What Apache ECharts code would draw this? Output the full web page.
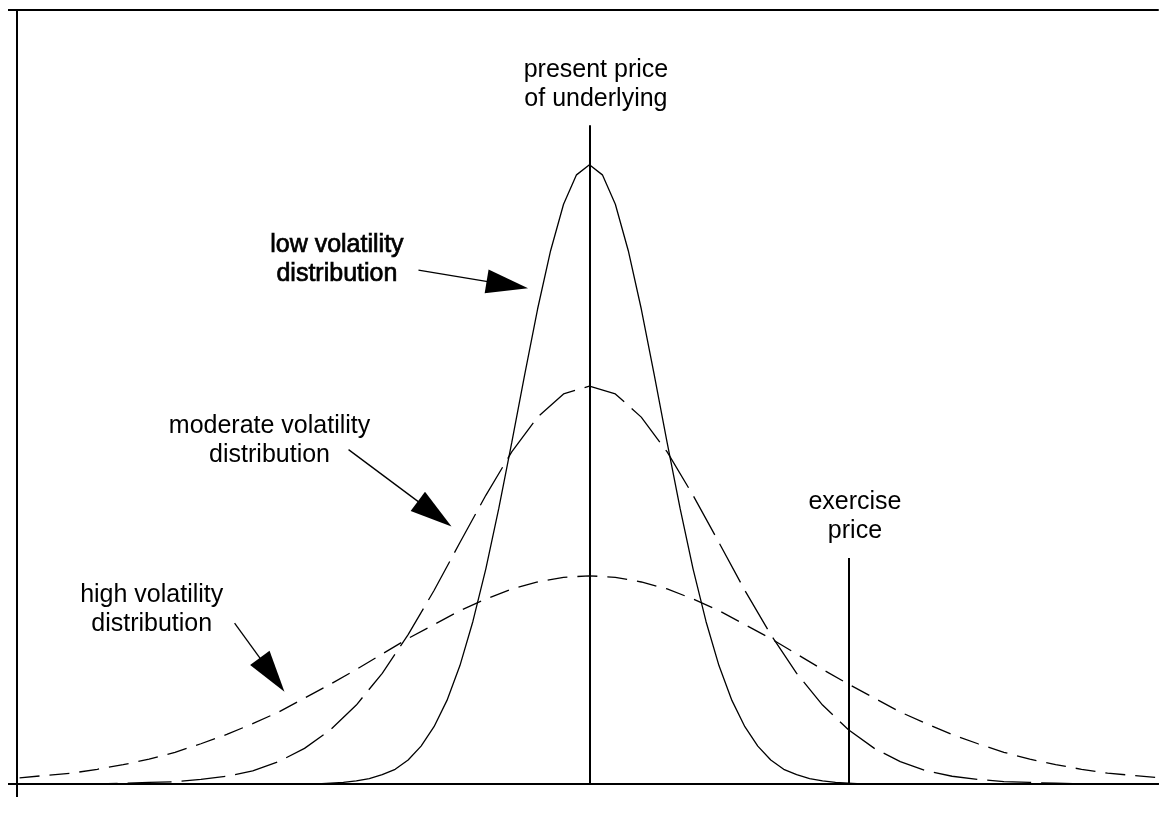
<!DOCTYPE html>
<html><head><meta charset="utf-8">
<script src="https://cdn.jsdelivr.net/npm/echarts@6/dist/echarts.min.js"></script>
<style>html,body{margin:0;padding:0;background:#fff}#c{width:1159px;height:819px}</style>
</head><body><div id="c"></div>
<script>
// x positions in price units (present price = 100, exercise price = 120)
const lowX = [56,78,79,80,81,82,83,84,85,86,87,88,89,90,91,92,93,94,95,96,97,98,99,100,101,102,103,104,105,106,107,108,109,110,111,112,113,114,115,116,117,118,119,120,121,122,144];
const lowY = [0,0,0,0.1,0.2,0.4,0.7,1.2,1.9,3.1,4.9,7.4,10.8,15.3,21.0,27.8,35.6,44.1,52.9,61.4,68.9,74.9,78.7,80.0,78.7,74.9,68.9,61.4,52.9,44.1,35.6,27.8,21.0,15.3,10.8,7.4,4.9,3.1,1.9,1.2,0.7,0.4,0.2,0.1,0,0,0];
const wideX = [56,58,60,62,64,66,68,70,72,74,76,78,80,82,84,86,88,90,92,94,96,98,100,102,104,106,108,110,112,114,116,118,120,122,124,126,128,130,132,134,136,138,140,142,144];
const moderateY = [0,0,0,0,0.1,0.2,0.3,0.6,1.0,1.7,2.9,4.6,7.0,10.2,14.3,19.3,25.0,31.2,37.3,42.9,47.4,50.4,51.4,50.4,47.4,42.9,37.3,31.2,25.0,19.3,14.3,10.2,7.0,4.6,2.9,1.7,1.0,0.6,0.3,0.2,0.1,0,0,0,0];
const highY = [0.8,1.1,1.4,1.9,2.5,3.2,4.1,5.2,6.4,7.8,9.3,11.1,12.9,14.8,16.8,18.8,20.6,22.4,23.9,25.2,26.1,26.7,26.9,26.7,26.1,25.2,23.9,22.4,20.6,18.8,16.8,14.8,12.9,11.1,9.3,7.8,6.4,5.2,4.1,3.2,2.5,1.9,1.4,1.1,0.8];
const presentPrice = 100, exercisePrice = 120;
const annotationTexts = ['present price\nof underlying','low volatility\ndistribution','moderate volatility\ndistribution','high volatility\ndistribution','exercise\nprice'];

// layout (positions in data units)
const annotationPos = [[100.5,90.4],[80.5,67.8],[75.3,44.4],[66.2,22.5],[120.5,34.5]];
const presentTop = 85.1, exerciseTop = 29.2;
const arrows = [[[86.8,66.4],[93.66,64.5]],[[81.4,43.2],[88.05,34.9]],[[72.6,20.8],[75.5,14.1]]];

const ink = '#000';
const zip = (xs, ys) => xs.map((x,i) => [x, ys[i]]);
const chart = echarts.init(document.getElementById('c'), null, {renderer:'canvas'});
const axisX = {type:'value', min:55.8, max:143.9, axisLabel:{show:false}, splitLine:{show:false}};
chart.setOption({
  animation:false,
  backgroundColor:'#fff',
  grid:{left:17, right:1, top:10, bottom:35},
  xAxis:[
    Object.assign({}, axisX, {position:'bottom', axisLine:{onZero:false, lineStyle:{color:ink, width:2}},
      axisTick:{show:true, customValues:[55.8], length:13, lineStyle:{color:ink, width:2}}}),
    Object.assign({}, axisX, {position:'top', axisLine:{show:true, onZero:false, lineStyle:{color:ink, width:2}}, axisTick:{show:false}})
  ],
  yAxis:{type:'value', min:0, max:100, interval:100, axisLine:{show:true, onZero:false, lineStyle:{color:ink, width:2}},
    axisTick:{show:true, length:9, lineStyle:{color:ink, width:2}}, axisLabel:{show:false}, splitLine:{show:false}},
  series:[
    {type:'line', name:'low', data:zip(lowX, lowY), symbol:'none', lineStyle:{color:ink, width:1.3}, z:3,
      markLine:{silent:true, symbol:['none','none'], label:{show:false}, lineStyle:{color:ink, width:2, type:'solid', opacity:1},
        data:[[{coord:[presentPrice,0]},{coord:[presentPrice,presentTop]}],[{coord:[exercisePrice,0]},{coord:[exercisePrice,exerciseTop]}]]}},
    {type:'line', name:'moderate', data:zip(wideX, moderateY), symbol:'none', lineStyle:{color:ink, width:1.3, type:[44,10]}},
    {type:'line', name:'high', data:zip(wideX, highY), symbol:'none', lineStyle:{color:ink, width:1.3, type:[20,10]}},
    {type:'scatter', name:'notes', symbolSize:0, z:5, itemStyle:{opacity:1, color:ink},
      data:annotationPos.map((p,i) => ({value:p, label:{formatter:annotationTexts[i],
        textBorderColor: i===1 ? ink : 'transparent', textBorderWidth: i===1 ? 0.7 : 0}})),
      label:{show:true, position:'inside', color:ink, opacity:1, fontFamily:'Liberation Sans, Arial, sans-serif', fontSize:25, lineHeight:29, align:'center', verticalAlign:'middle'},
      markLine:{silent:true, symbol:['none','triangle'], label:{show:false}, itemStyle:{color:ink, opacity:1}, lineStyle:{color:ink, width:1.3, type:'solid', opacity:1},
        data:arrows.map(a => [{coord:a[0]},{coord:a[1], symbolSize:[24,42]}])}}
  ]
});
</script></body></html>
